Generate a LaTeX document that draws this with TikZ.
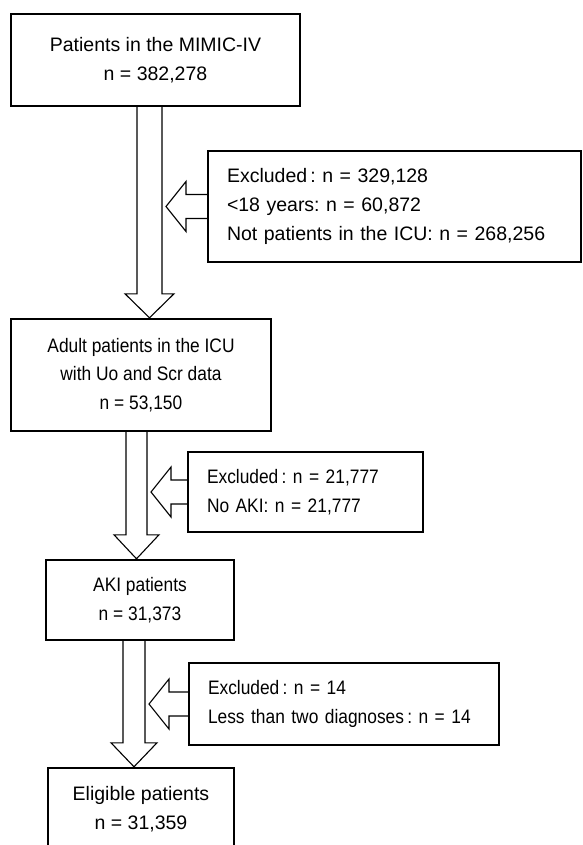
\documentclass[tikz,border=0pt]{standalone}
\usepackage{fontspec}
\setmainfont{Liberation Sans}
\newfontfamily\narrowsans[FakeStretch=0.89]{Liberation Sans}
\usetikzlibrary{calc}

% hollow block arrow pointing down: centre x, half shaft, from node, to node
\newcommand{\hollowdown}[4]{%
\coordinate (hb) at ($(#1,0 |- #4.north)+(0,-24)$);
\draw[hollowarrow] (#1-#2,0 |- #3.south) -- (#1-#2,0 |- hb) -- (#1-#2-12,0 |- hb)
  -- (#1,0 |- #4.north) -- (#1+#2+12,0 |- hb) -- (#1+#2,0 |- hb) -- (#1+#2,0 |- #3.south);
}
% hollow block arrow pointing left: from node, tip x
\newcommand{\hollowleft}[2]{%
\draw[hollowarrow] ($(#1.west)+(0,-12)$) -- ($(#2+20,0 |- #1.west)+(0,-12)$) -- ++(0,-13)
  -- (#2,0 |- #1.west) -- ($(#2+20,0 |- #1.west)+(0,25)$) -- ++(0,-13) -- ($(#1.west)+(0,12)$);
}

\begin{document}
\frenchspacing
\begin{tikzpicture}[x=1pt,y=-1pt,
  bigtext/.style={font=\fontsize{19.5}{29}\selectfont},
  narrowtext/.style={font=\narrowsans\fontsize{19.5}{28.5}\selectfont},
  mainbox/.style={draw,line width=2.4pt,inner sep=0pt,align=center},
  exclbox/.style={draw,line width=2.4pt,inner xsep=19pt,inner ysep=0pt,align=left},
  hollowarrow/.style={line width=1.1pt,line join=miter,fill=white}]

\useasboundingbox (0,0) rectangle (582,845);

% main flow
\node[mainbox,bigtext,minimum width=289pt,minimum height=92pt] (pop) at (155.5,60)
  {Patients in the MIMIC-IV\\ n = 382,278};
\node[mainbox,narrowtext,minimum width=260pt,minimum height=112pt] (adult) at (141,375)
  {Adult patients in the ICU\\ with Uo and Scr data\\ n = 53,150};
\node[mainbox,narrowtext,minimum width=188pt,minimum height=80pt] (aki) at (140,600)
  {AKI patients\\ n = 31,373};
\node[mainbox,bigtext,minimum width=186pt,minimum height=82pt] (eligible) at (141,809)
  {Eligible patients\\ n = 31,359};

% exclusions
\node[exclbox,bigtext,text width=335pt,minimum height=111pt] (excla) at (394.5,206.5)
  {Excluded\,: n = 329,128\\ <18 years: n = 60,872\\ Not patients in the ICU: n = 268,256};
\node[exclbox,narrowtext,text width=197pt,minimum height=80pt] (exclb) at (305.5,492)
  {Excluded\,: n = 21,777\\ No AKI: n = 21,777};
\node[exclbox,narrowtext,text width=272pt,minimum height=82pt] (exclc) at (344,704)
  {Excluded\,: n = 14\\ Less than two diagnoses\,: n = 14};

\hollowdown{149.5}{12.5}{pop}{adult}
\hollowdown{136.5}{10.5}{adult}{aki}
\hollowdown{134}{11}{aki}{eligible}

\hollowleft{excla}{166}
\hollowleft{exclb}{151}
\hollowleft{exclc}{149}

\end{tikzpicture}
\end{document}
